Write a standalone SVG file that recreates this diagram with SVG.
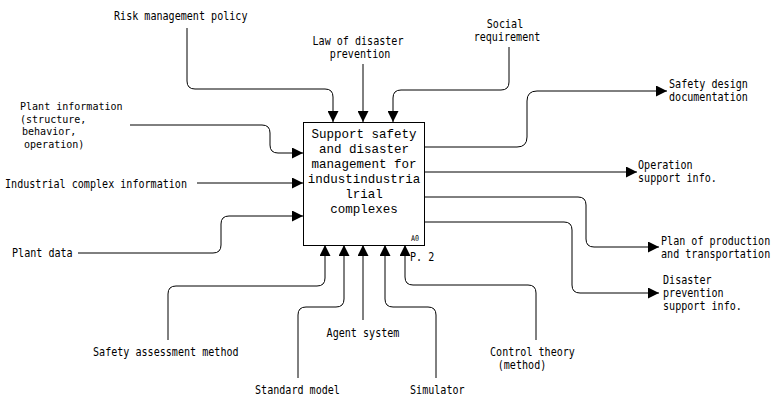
<svg xmlns="http://www.w3.org/2000/svg" width="776" height="400" viewBox="0 0 776 400">
  <style>
    .lbl { font-family: "DejaVu Sans Mono", "Liberation Mono", monospace; font-size: 12px; fill: #000; }
    .lbl-s { font-family: "DejaVu Sans Mono", "Liberation Mono", monospace; font-size: 10.8px; fill: #000; }
    .mid { text-anchor: middle; }
    .title { font-family: "Liberation Mono", "DejaVu Sans Mono", monospace; font-size: 13.2px; fill: #000; text-anchor: middle; }
    .small { font-family: "DejaVu Sans Mono", monospace; font-size: 8px; fill: #000; }
    .wire { fill: none; stroke: #000; stroke-width: 1; marker-end: url(#arrow); }
    .box { fill: #fff; stroke: #000; stroke-width: 1; }
  </style>
  <defs>
    <marker id="arrow" markerUnits="userSpaceOnUse" markerWidth="11" markerHeight="11" refX="11" refY="5.5" orient="auto">
      <path d="M0,0 L11,5.5 L0,11 z" fill="#000"/>
    </marker>
  </defs>
  <rect width="776" height="400" fill="#fff"/>

  <!-- connectors -->
  <g id="connectors">
    <!-- controls (top) -->
    <path class="wire" d="M187,28 V81 Q187,89 195,89 H325 Q333,89 333,97 V122"/>
    <path class="wire" d="M363,64 V122"/>
    <path class="wire" d="M509,47 V82 Q509,90 501,90 H401 Q393,90 393,98 V122"/>
    <!-- inputs (left) -->
    <path class="wire" d="M130,125 H262 Q270,125 270,133 V145 Q270,153 278,153 H303"/>
    <path class="wire" d="M197,183 H303"/>
    <path class="wire" d="M78,253 H213 Q221,253 221,245 V224 Q221,216 229,216 H303"/>
    <!-- outputs (right) -->
    <path class="wire" d="M424,147 H517 Q527,147 527,137 V101 Q527,91 537,91 H667"/>
    <path class="wire" d="M424,172 H637"/>
    <path class="wire" d="M424,197 H578 Q586,197 586,205 V239 Q586,247 594,247 H659"/>
    <path class="wire" d="M424,222 H564 Q572,222 572,230 V285 Q572,293 580,293 H659"/>
    <!-- mechanisms (bottom) -->
    <path class="wire" d="M168,340 V294 Q168,286 176,286 H317 Q325,286 325,278 V245"/>
    <path class="wire" d="M298,378 V315 Q298,307 306,307 H336 Q344,307 344,299 V245"/>
    <path class="wire" d="M363,320 V245"/>
    <path class="wire" d="M436,378 V315 Q436,307 428,307 H393 Q385,307 385,299 V245"/>
    <path class="wire" d="M536,340 V293 Q536,285 528,285 H413 Q405,285 405,277 V245"/>
  </g>

  <!-- activity box; narrow monospace glyphs via horizontal scaling -->
  <g id="A0">
    <rect class="box" x="303.5" y="122.5" width="121" height="123"/>
    <text class="title" transform="translate(364,138) scale(0.95,1)">Support safety</text>
    <text class="title" transform="translate(364,153) scale(0.95,1)">and disaster</text>
    <text class="title" transform="translate(364,168) scale(0.95,1)">management for</text>
    <text class="title" transform="translate(364,183) scale(0.95,1)">industindustria</text>
    <text class="title" transform="translate(364,198) scale(0.95,1)">lrial</text>
    <text class="title" transform="translate(364,213) scale(0.95,1)">complexes</text>
    <text class="small" transform="translate(411,241) scale(0.84,1)">A0</text>
    <text class="lbl" transform="translate(410,261) scale(0.84,1)">P. 2</text>
  </g>

  <!-- controls -->
  <g id="risk-management-policy">
    <text class="lbl" transform="translate(114,20) scale(0.84,1)">Risk management policy</text>
  </g>
  <g id="law-of-disaster-prevention">
    <text class="lbl mid" transform="translate(358,45) scale(0.84,1)">Law of disaster</text>
    <text class="lbl mid" transform="translate(360,58) scale(0.84,1)">prevention</text>
  </g>
  <g id="social-requirement">
    <text class="lbl mid" transform="translate(505,28) scale(0.84,1)">Social</text>
    <text class="lbl mid" transform="translate(507,41) scale(0.84,1)">requirement</text>
  </g>

  <!-- inputs -->
  <g id="plant-information">
    <text class="lbl-s" transform="translate(20,110) scale(0.93,1)">Plant information</text>
    <text class="lbl-s" transform="translate(20,122.5) scale(0.93,1)">(structure,</text>
    <text class="lbl-s" transform="translate(22,135) scale(0.93,1)">behavior,</text>
    <text class="lbl-s" transform="translate(24,147.5) scale(0.93,1)">operation)</text>
  </g>
  <g id="industrial-complex-information">
    <text class="lbl" transform="translate(5,188) scale(0.84,1)">Industrial complex information</text>
  </g>
  <g id="plant-data">
    <text class="lbl" transform="translate(12,257) scale(0.84,1)">Plant data</text>
  </g>

  <!-- outputs -->
  <g id="safety-design-documentation">
    <text class="lbl" transform="translate(669,88) scale(0.84,1)">Safety design</text>
    <text class="lbl" transform="translate(669,101) scale(0.84,1)">documentation</text>
  </g>
  <g id="operation-support-info">
    <text class="lbl" transform="translate(638,169) scale(0.84,1)">Operation</text>
    <text class="lbl" transform="translate(638,182) scale(0.84,1)">support info.</text>
  </g>
  <g id="plan-of-production">
    <text class="lbl" transform="translate(661,245) scale(0.84,1)">Plan of production</text>
    <text class="lbl" transform="translate(661,258) scale(0.84,1)">and transportation</text>
  </g>
  <g id="disaster-prevention-support-info">
    <text class="lbl" transform="translate(663,284) scale(0.84,1)">Disaster</text>
    <text class="lbl" transform="translate(663,297) scale(0.84,1)">prevention</text>
    <text class="lbl" transform="translate(663,310) scale(0.84,1)">support info.</text>
  </g>

  <!-- mechanisms -->
  <g id="safety-assessment-method">
    <text class="lbl" transform="translate(93,356) scale(0.84,1)">Safety assessment method</text>
  </g>
  <g id="standard-model">
    <text class="lbl" transform="translate(255,394) scale(0.84,1)">Standard model</text>
  </g>
  <g id="agent-system">
    <text class="lbl mid" transform="translate(363,337) scale(0.84,1)">Agent system</text>
  </g>
  <g id="simulator">
    <text class="lbl" transform="translate(410,394) scale(0.84,1)">Simulator</text>
  </g>
  <g id="control-theory">
    <text class="lbl" transform="translate(490,356) scale(0.84,1)">Control theory</text>
    <text class="lbl mid" transform="translate(522,369) scale(0.84,1)">(method)</text>
  </g>
</svg>
